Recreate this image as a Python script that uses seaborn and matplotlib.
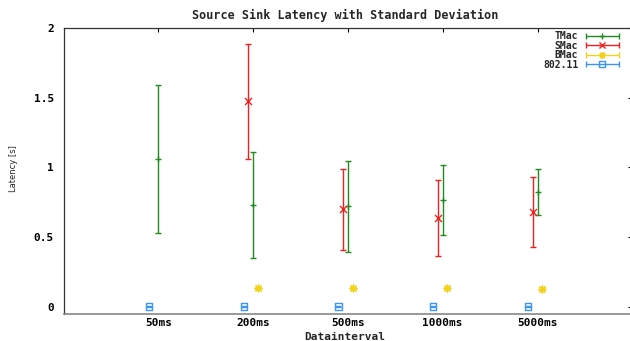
import numpy as np
import pandas as pd
import matplotlib
matplotlib.use("Agg")
import matplotlib.pyplot as plt
import seaborn as sns
from matplotlib.legend_handler import HandlerErrorbar
from matplotlib.container import ErrorbarContainer
from matplotlib.lines import Line2D
from matplotlib.collections import LineCollection

# ---- data ----
categories = ["50ms", "200ms", "500ms", "1000ms", "5000ms"]
tmac_mean = [1.06, 0.73, 0.72, 0.765, 0.825]
tmac_sd = [0.53, 0.38, 0.325, 0.25, 0.165]
smac_mean = [np.nan, 1.475, 0.70, 0.636, 0.68]
smac_sd = [np.nan, 0.413, 0.29, 0.275, 0.252]
bmac_mean = [np.nan, 0.134, 0.134, 0.134, 0.130]
bmac_sd = [np.nan, 0.010, 0.010, 0.010, 0.008]
wifi_mean = [0.002, 0.002, 0.002, 0.002, 0.002]
wifi_sd = [0.003, 0.003, 0.003, 0.003, 0.003]

series_names = ["TMac", "SMac", "BMac", "802.11"]
series_means = [tmac_mean, smac_mean, bmac_mean, wifi_mean]
series_sds = [tmac_sd, smac_sd, bmac_sd, wifi_sd]

rows = []
for name, m, s in zip(series_names, series_means, series_sds):
    for i, c in enumerate(categories):
        rows.append({"series": name, "cat": c, "idx": i + 1, "mean": m[i], "sd": s[i]})
df = pd.DataFrame(rows).dropna()

# ---- style ----
sns.set_style("white")
mono = ["DejaVu Sans Mono"]
plt.rcParams["font.family"] = mono

colors = {"TMac": "#1f8c1f", "SMac": "#f51e1e", "BMac": "#f2d21a", "802.11": "#3a96f0"}
markers = {"TMac": "+", "SMac": "x", "BMac": (8, 2, 0), "802.11": "s"}
offsets = {"TMac": 0.0, "SMac": -0.05, "BMac": 0.05, "802.11": -0.1}

W, H = 630, 341
fig = plt.figure(figsize=(6.3, 3.41), dpi=100)
ax_l, ax_r, ax_t, ax_b = 63.5, 632.3, 27.9, 313.7
ax = fig.add_axes([ax_l / W, 1 - ax_b / H, (ax_r - ax_l) / W, (ax_b - ax_t) / H])

df["xpos"] = df["idx"] + df["series"].map(offsets)

for name in series_names:
    sub = df[df["series"] == name]
    ax.errorbar(sub["xpos"], sub["mean"], yerr=sub["sd"], fmt="none",
                ecolor=colors[name], elinewidth=1.0, capsize=2.2,
                capthick=1.0)
    if name == "802.11":
        sns.scatterplot(data=sub, x="xpos", y="mean", marker="s", s=20,
                        facecolor="none", edgecolor=colors[name], linewidth=1.0,
                        ax=ax, legend=False, zorder=3)
    else:
        sns.scatterplot(data=sub, x="xpos", y="mean", marker=markers[name], s=25,
                        color=colors[name], linewidth=1.0,
                        ax=ax, legend=False, zorder=3)

# legend handles with horizontal gnuplot-like samples
leg_fs = 7
leg_handles = []
for name in series_names:
    mk = Line2D([], [], color=colors[name], marker=markers[name], linestyle="none",
                markersize=5 if name != "802.11" else 4.5, markerfacecolor="none",
                markeredgecolor=colors[name], markeredgewidth=1.0)
    cap = Line2D([], [], color=colors[name], linewidth=1.0, markersize=4, markeredgewidth=1.0)
    bl = LineCollection([], colors=colors[name], linewidths=1.0)
    ec = ErrorbarContainer((mk, [cap], [bl]), has_xerr=True, has_yerr=False, label=name)
    leg_handles.append(ec)

leg = ax.legend(handles=leg_handles, labels=series_names, loc="upper right",
                bbox_to_anchor=(619 / W, 1 - 31 / H), bbox_transform=fig.transFigure,
                frameon=False, markerfirst=False,
                prop={"family": mono, "weight": "bold", "size": leg_fs},
                handlelength=3.4, handletextpad=0.8, labelspacing=-0.05,
                borderaxespad=0, borderpad=0, handleheight=0.5,
                handler_map={ErrorbarContainer: HandlerErrorbar(xerr_size=1.7, numpoints=1)})

ax.set_xlim(0, 6)
ax.set_ylim(-0.05, 2)
ax.set_xticks(range(1, 6))
ax.set_xticklabels(categories)
ax.set_yticks([0, 0.5, 1, 1.5, 2])
ax.set_yticklabels(["0", "0.5", "1", "1.5", "2"])
ax.tick_params(direction="in", length=3, width=0.8, top=True, right=True,
               labelsize=8, pad=7, colors="black")
ax.tick_params(axis="x", pad=3)
for lab in ax.get_xticklabels() + ax.get_yticklabels():
    lab.set_fontweight("bold")

for sp in ["left", "top", "right"]:
    ax.spines[sp].set_color("#333333")
    ax.spines[sp].set_linewidth(0.9)
ax.spines["bottom"].set_color("#888888")
ax.spines["bottom"].set_linewidth(1.2)

aw, ah = ax_r - ax_l, ax_b - ax_t
ax.set_xlabel("Datainterval", fontsize=8, fontweight="bold", va="center")
ax.xaxis.set_label_coords((345 - ax_l) / aw, (ax_b - 337) / ah)
ax.set_ylabel("Latency [s]", fontsize=6, family=["DejaVu Sans"], va="center")
ax.yaxis.set_label_coords((14 - ax_l) / aw, (ax_b - 169) / ah)
fig.text(345 / W, 1 - 15 / H, "Source Sink Latency with Standard Deviation",
         fontsize=8.5, fontweight="bold", ha="center", va="center")

fig.savefig("out.png", dpi=100)
